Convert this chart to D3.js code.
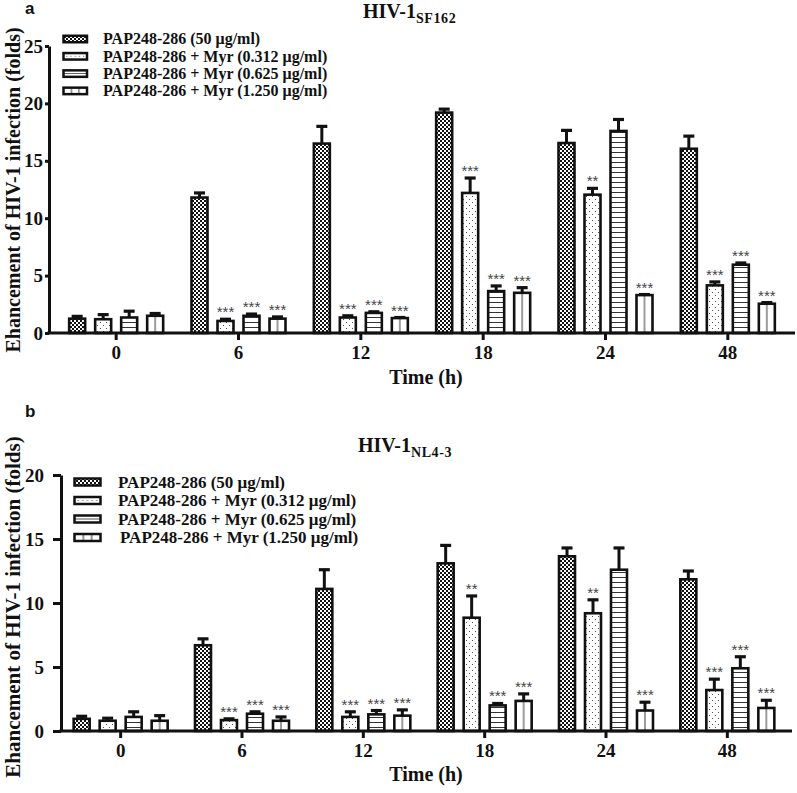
<!DOCTYPE html>
<html><head><meta charset="utf-8">
<script src="https://cdn.jsdelivr.net/npm/d3@7"></script>
<style>body{margin:0;background:#fff}</style>
</head><body><svg id="c" width="797" height="793"></svg>
<script>
// ---------- DATA ----------
const categories = ["0", "6", "12", "18", "24", "48"];
const seriesLabels = [
  "PAP248-286 (50 \u03bcg/ml)",
  "PAP248-286 + Myr (0.312 \u03bcg/ml)",
  "PAP248-286 + Myr (0.625 \u03bcg/ml)",
  "PAP248-286 + Myr (1.250 \u03bcg/ml)"
];
const yTicksTop = [0, 5, 10, 15, 20, 25];
const yTicksBottom = [0, 5, 10, 15, 20];

// Panel a: HIV-1 SF162 (mean, upper error)
const sf162_pap      = [1.25, 11.8, 16.5, 19.2, 16.55, 16.05];
const sf162_pap_err  = [0.2, 0.4, 1.5, 0.3, 1.1, 1.1];
const sf162_m0312    = [1.2, 1.05, 1.35, 12.2, 12.05, 4.15];
const sf162_m0312_err= [0.4, 0.15, 0.15, 1.3, 0.55, 0.3];
const sf162_m0625    = [1.35, 1.5, 1.75, 3.65, 17.6, 5.95];
const sf162_m0625_err= [0.55, 0.15, 0.1, 0.45, 1.0, 0.15];
const sf162_m1250    = [1.5, 1.25, 1.3, 3.5, 3.3, 2.55];
const sf162_m1250_err= [0.2, 0.15, 0.05, 0.45, 0.05, 0.1];
const sf162_sig = [
  ["", "", "", "", "", ""],
  ["", "***", "***", "***", "**", "***"],
  ["", "***", "***", "***", "", "***"],
  ["", "***", "***", "***", "***", "***"]
];

// Panel b: HIV-1 NL4-3
const nl43_pap       = [0.95, 6.7, 11.1, 13.1, 13.65, 11.85];
const nl43_pap_err   = [0.2, 0.5, 1.5, 1.4, 0.65, 0.65];
const nl43_m0312     = [0.8, 0.85, 1.1, 8.85, 9.2, 3.2];
const nl43_m0312_err = [0.2, 0.1, 0.4, 1.7, 1.05, 0.85];
const nl43_m0625     = [1.1, 1.35, 1.3, 2.0, 12.6, 4.9];
const nl43_m0625_err = [0.4, 0.15, 0.3, 0.15, 1.7, 0.9];
const nl43_m1250     = [0.8, 0.8, 1.2, 2.35, 1.6, 1.8];
const nl43_m1250_err = [0.4, 0.3, 0.45, 0.55, 0.65, 0.6];
const nl43_sig = [
  ["", "", "", "", "", ""],
  ["", "***", "***", "**", "**", "***"],
  ["", "***", "***", "***", "", "***"],
  ["", "***", "***", "***", "***", "***"]
];

// ---------- DRAW ----------
const svg = d3.select("#c");
const defs = svg.append("defs");
const SERIF = "'Liberation Serif','Times New Roman',serif";
const SANS = "'Liberation Sans',Arial,sans-serif";

function pat(id, w, h, fn, bbox) {
  const p = defs.append("pattern").attr("id", id).attr("width", w).attr("height", h);
  if (bbox) p.attr("patternUnits", "objectBoundingBox").attr("patternContentUnits", "objectBoundingBox");
  else p.attr("patternUnits", "userSpaceOnUse");
  p.append("rect").attr("width", w).attr("height", h).attr("fill", "#fff");
  fn(p);
}
// bar patterns
pat("pChk", 4, 4, p => {
  p.append("rect").attr("x", 0).attr("y", 0).attr("width", 2).attr("height", 2).attr("fill", "#111");
  p.append("rect").attr("x", 2).attr("y", 2).attr("width", 2).attr("height", 2).attr("fill", "#111");
});
pat("pDot", 6, 6, p => {
  p.append("rect").attr("x", 1).attr("y", 1).attr("width", 1).attr("height", 1).attr("fill", "#555");
  p.append("rect").attr("x", 4).attr("y", 4).attr("width", 1).attr("height", 1).attr("fill", "#555");
});
pat("pHor", 4, 5, p => {
  p.append("rect").attr("x", 0).attr("y", 2).attr("width", 4).attr("height", 1).attr("fill", "#333");
});
pat("pVer", 1, 1, p => {
  p.append("rect").attr("x", 0.47).attr("y", 0).attr("width", 0.06).attr("height", 1).attr("fill", "#333");
}, true);
// legend patterns
pat("lDot", 1, 1, p => {
  [0.14, 0.32, 0.5, 0.68, 0.86].forEach(x =>
    p.append("rect").attr("x", x - 0.02).attr("y", 0.42).attr("width", 0.04).attr("height", 0.16).attr("fill", "#555"));
}, true);
pat("lHor", 1, 1, p => {
  p.append("rect").attr("x", 0).attr("y", 0.44).attr("width", 1).attr("height", 0.12).attr("fill", "#333");
}, true);
pat("lVer", 1, 1, p => {
  p.append("rect").attr("x", 0.32).attr("y", 0).attr("width", 0.04).attr("height", 1).attr("fill", "#333");
  p.append("rect").attr("x", 0.64).attr("y", 0).attr("width", 0.04).attr("height", 1).attr("fill", "#333");
}, true);

const barFills = ["url(#pChk)", "url(#pDot)", "url(#pHor)", "url(#pVer)"];
const legFills = ["url(#pChk)", "url(#lDot)", "url(#lHor)", "url(#lVer)"];

function drawPanel(c) {
  const g = svg.append("g");
  const x0 = d3.scaleBand().domain(categories).range(c.xRange);
  const x1 = d3.scaleBand().domain([0, 1, 2, 3]).range([-47, 47]).paddingInner(10 / 26);
  const y = d3.scaleLinear().domain([0, c.yMax]).range([c.y0, c.yTop]);
  const cx = cat => x0(cat) + x0.bandwidth() / 2;

  // bars
  c.means.forEach((arr, s) => {
    arr.forEach((v, i) => {
      const cat = categories[i];
      const bx = cx(cat) + x1(s);
      const bw = x1.bandwidth();
      const mid = bx + bw / 2;
      const top = y(v + c.errs[s][i]);
      g.append("line").attr("x1", mid).attr("x2", mid).attr("y1", y(v)).attr("y2", top)
        .attr("stroke", "#111").attr("stroke-width", 3);
      g.append("line").attr("x1", mid - 5.5).attr("x2", mid + 5.5).attr("y1", top).attr("y2", top)
        .attr("stroke", "#111").attr("stroke-width", 3.2);
      g.append("rect").attr("x", bx).attr("y", y(v)).attr("width", bw).attr("height", y(0) - y(v))
        .attr("fill", barFills[s]).attr("stroke", "#111").attr("stroke-width", 2.6);
      const sig = c.sigs[s][i];
      if (sig) {
        g.append("text").attr("x", mid).attr("y", top - 2).attr("text-anchor", "middle")
          .attr("font-family", SANS).attr("font-size", 15).attr("fill", "#444").text(sig);
      }
    });
  });

  // y axis
  const ya = g.append("g").attr("transform", `translate(${c.axisX},0)`)
    .call(d3.axisLeft(y).tickValues(c.yTicks).tickSize(c.yTickSize).tickSizeOuter(0).tickPadding(c.yTickPad));
  ya.select(".domain").attr("stroke", "#111").attr("stroke-width", 3);
  ya.selectAll(".tick line").attr("stroke", "#111").attr("stroke-width", 3);
  ya.selectAll(".tick text").attr("font-family", SERIF).attr("font-weight", "bold")
    .attr("font-size", 19).attr("fill", "#111");

  // x axis
  const xa = g.append("g").attr("transform", `translate(0,${y(0)})`)
    .call(d3.axisBottom(x0).tickSize(7).tickSizeOuter(0).tickPadding(6));
  xa.select(".domain").remove();
  xa.selectAll(".tick line").attr("stroke", "#111").attr("stroke-width", 3);
  xa.selectAll(".tick text").attr("font-family", SERIF).attr("font-weight", "bold")
    .attr("font-size", 19).attr("fill", "#111");
  g.append("line").attr("x1", c.axisX - 1.5).attr("x2", c.axisEnd).attr("y1", y(0)).attr("y2", y(0))
    .attr("stroke", "#111").attr("stroke-width", 3);

  // legend
  seriesLabels.forEach((lab, s) => {
    const ry = c.legY + s * c.legStep;
    g.append("rect").attr("x", c.legX).attr("y", ry - c.legH / 2).attr("width", c.legW).attr("height", c.legH)
      .attr("fill", legFills[s]).attr("stroke", "#111").attr("stroke-width", 2.5);
    g.append("text").attr("x", c.legTextX + (c.legShift ? c.legShift[s] : 0)).attr("y", ry + c.legFont * 0.33)
      .attr("font-family", SERIF).attr("font-weight", "bold").attr("font-size", c.legFont)
      .attr("fill", "#111").text(lab);
  });

  // title
  const t = g.append("text").attr("x", c.titleX).attr("y", c.titleY)
    .attr("font-family", SERIF).attr("font-weight", "bold").attr("font-size", 20).attr("fill", "#111");
  t.append("tspan").text("HIV-1");
  t.append("tspan").attr("font-size", 14).attr("dy", 5).attr("letter-spacing", 0.6).text(c.sub);

  // panel letter
  g.append("text").attr("x", 25).attr("y", c.letterY).attr("font-family", SANS).attr("font-weight", "bold")
    .attr("font-size", 17).attr("fill", "#111").text(c.letter);

  // y label
  g.append("text").attr("transform", `translate(20,${c.yLabelC}) rotate(-90)`).attr("text-anchor", "middle")
    .attr("font-family", SERIF).attr("font-weight", "bold").attr("font-size", c.yLabelFont).attr("fill", "#111")
    .text("Ehancement of HIV-1 infection (folds)");

  // x label
  g.append("text").attr("x", 426).attr("y", c.timeY).attr("text-anchor", "middle")
    .attr("font-family", SERIF).attr("font-weight", "bold").attr("font-size", 20).attr("fill", "#111")
    .text("Time (h)");
}

drawPanel({
  means: [sf162_pap, sf162_m0312, sf162_m0625, sf162_m1250],
  errs: [sf162_pap_err, sf162_m0312_err, sf162_m0625_err, sf162_m1250_err],
  sigs: sf162_sig, yMax: 25, yTicks: yTicksTop,
  xRange: [55, 789], y0: 333, yTop: 46, axisX: 49, axisEnd: 795,
  yTickSize: 4, yTickPad: 2,
  legX: 63.5, legY: 39, legStep: 17.3, legW: 23.5, legH: 6.5, legTextX: 103, legFont: 16,
  titleX: 363, titleY: 18, sub: "SF162", letter: "a", letterY: 14, yLabelC: 190, yLabelFont: 20, timeY: 384
});
drawPanel({
  means: [nl43_pap, nl43_m0312, nl43_m0625, nl43_m1250],
  errs: [nl43_pap_err, nl43_m0312_err, nl43_m0625_err, nl43_m1250_err],
  sigs: nl43_sig, yMax: 20, yTicks: yTicksBottom,
  xRange: [60, 788], y0: 731, yTop: 475, axisX: 61, axisEnd: 792,
  yTickSize: 8, yTickPad: 9,
  legX: 74.5, legY: 482, legStep: 18.5, legW: 26, legH: 7, legTextX: 118, legFont: 17, legShift: [0, 0, 0, 2],
  titleX: 358, titleY: 452, sub: "NL4-3", letter: "b", letterY: 417, yLabelC: 607, yLabelFont: 21, timeY: 781
});
</script>
</body></html>
